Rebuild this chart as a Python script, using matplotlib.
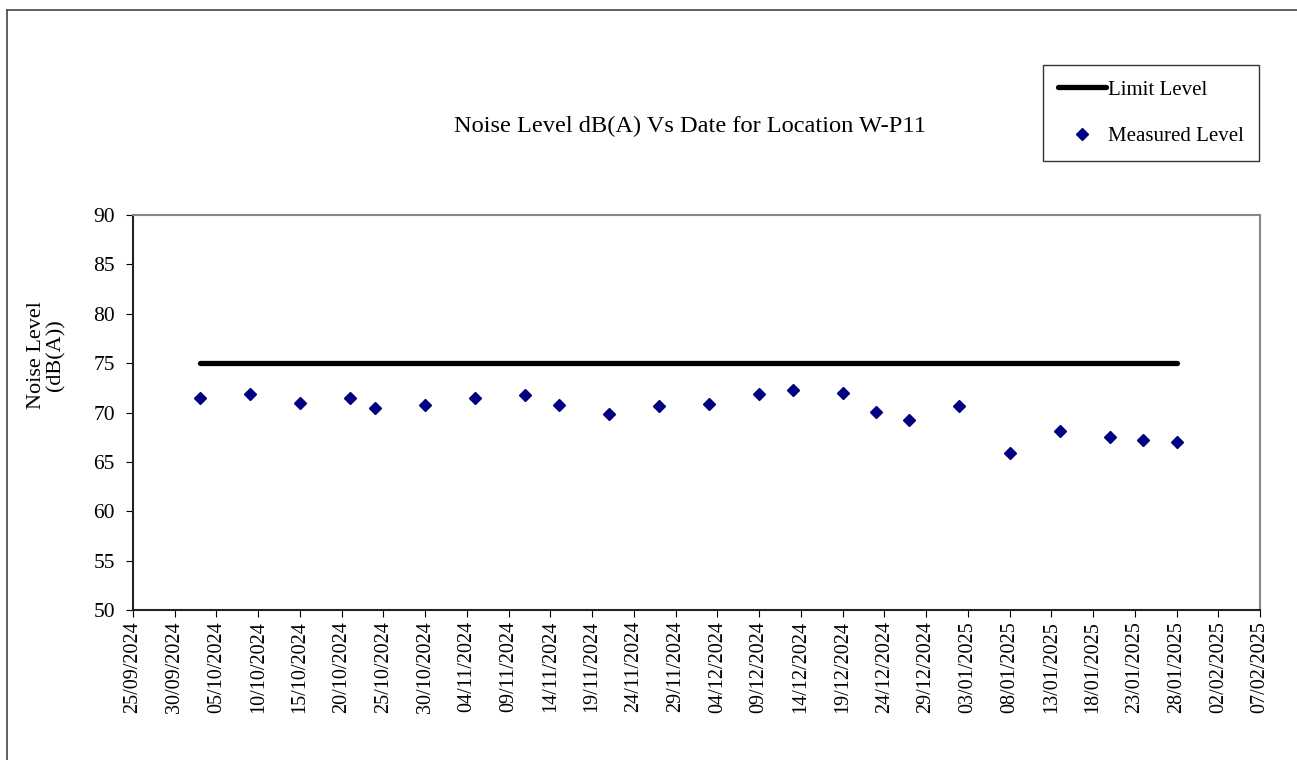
import pandas as pd
import matplotlib
matplotlib.use("Agg")
import matplotlib.pyplot as plt
import matplotlib.dates as mdates
from matplotlib.lines import Line2D

plt.rcParams['font.family'] = ['Liberation Serif', 'DejaVu Serif']

# dados de medicao
datas = ['2024-10-03', '2024-10-09', '2024-10-15', '2024-10-21', '2024-10-24',
         '2024-10-30', '2024-11-05', '2024-11-11', '2024-11-15', '2024-11-21',
         '2024-11-27', '2024-12-03', '2024-12-09', '2024-12-13', '2024-12-19',
         '2024-12-23', '2024-12-27', '2025-01-02', '2025-01-08', '2025-01-14',
         '2025-01-20', '2025-01-24', '2025-01-28']
medido = [71.5, 71.9, 71.0, 71.5, 70.5, 70.8, 71.5, 71.8, 70.8, 69.8,
          70.7, 70.9, 71.9, 72.3, 72.0, 70.1, 69.2, 70.7, 65.9, 68.1,
          67.5, 67.2, 67.0]
limite = 75
inicio_eixo, fim_eixo = '2024-09-25', '2025-02-07'


def main():
    x = pd.to_datetime(datas)
    fig = plt.figure(figsize=(12.97, 7.6), dpi=100)
    ax = fig.add_axes([133 / 1297, 150 / 760, 1127 / 1297, 395 / 760])

    ax.plot([x[0], x[-1]], [limite, limite], color='black', lw=3.8,
            solid_capstyle='round', label='Limit Level')
    ax.plot(x, medido, linestyle='none', marker='D', markersize=6.5,
            color='#000080', label='Measured Level')

    ax.set_xlim(pd.Timestamp(inicio_eixo), pd.Timestamp(fim_eixo))
    ax.set_ylim(50, 90)
    ax.set_yticks(range(50, 91, 5))
    ticks = pd.date_range(inicio_eixo, fim_eixo, freq='5D')
    ax.set_xticks(ticks)
    ax.xaxis.set_major_formatter(mdates.DateFormatter('%d/%m/%Y'))
    ax.tick_params(axis='x', rotation=90, labelsize=14.5, length=5, pad=3)
    ax.tick_params(axis='y', labelsize=15.5, length=5, pad=8)

    for lado in ('top', 'right'):
        ax.spines[lado].set_color('#888888')
        ax.spines[lado].set_linewidth(1.5)
    for lado in ('left', 'bottom'):
        ax.spines[lado].set_color('#222222')
        ax.spines[lado].set_linewidth(1.5)

    fig.text(46 / 1297, 1 - 355 / 760, 'Noise Level\n(dB(A))', rotation=90,
             ha='center', va='center', fontsize=16, linespacing=1.0,
             multialignment='center')
    fig.text(690 / 1297, 1 - 126 / 760, 'Noise Level dB(A) Vs Date for Location W-P11',
             ha='center', va='center', fontsize=17.6)

    leg = fig.legend(loc='upper left', bbox_to_anchor=(1043 / 1297, 1 - 65 / 760),
                     fontsize=15, frameon=True, fancybox=False, borderaxespad=0,
                     handlelength=2.3, handletextpad=0.1, labelspacing=1.3,
                     borderpad=0.72)
    leg.get_frame().set_edgecolor('black')
    leg.get_frame().set_linewidth(1.0)

    # moldura externa
    fig.add_artist(Line2D([7 / 1297, 7 / 1297], [0, 1 - 10 / 760], color='#444444',
                          lw=1.2, transform=fig.transFigure))
    fig.add_artist(Line2D([7 / 1297, 1], [1 - 10 / 760, 1 - 10 / 760], color='#444444',
                          lw=1.2, transform=fig.transFigure))

    fig.savefig('out.png', dpi=100)
    return 0


if __name__ == "__main__":
    SystemExit(main())
